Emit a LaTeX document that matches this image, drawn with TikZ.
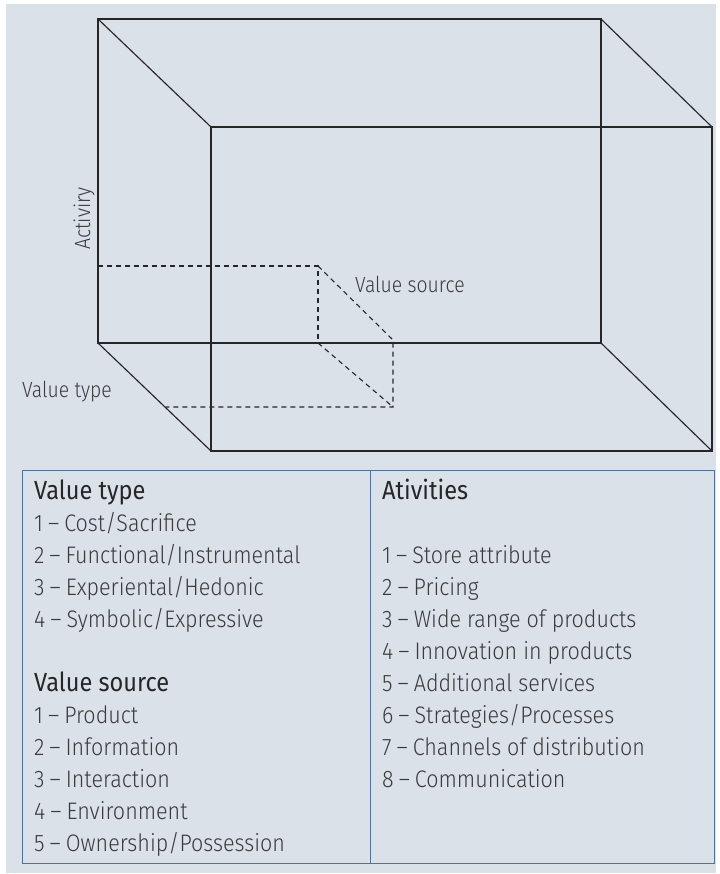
\documentclass[tikz,border=0pt]{standalone}
\usepackage{fontspec}
\newfontfamily\lightfont{Fira Sans Light}[FakeStretch=0.9]
\newfontfamily\labelfont{Fira Sans Light}[FakeStretch=0.88]
\newfontfamily\headfont{Fira Sans}[FakeStretch=0.9]
% numbered entry: number, en dash with narrow gaps, text
\newcommand\dsh{\kern5pt–\kern5pt}
\definecolor{panel}{HTML}{DBE1E9}
\definecolor{edge}{HTML}{262626}
\definecolor{frame}{HTML}{4E7399}
\definecolor{itemtext}{HTML}{3A3A3A}
\definecolor{headtext}{HTML}{262626}
\begin{document}
\begin{tikzpicture}[x=1pt,y=-1pt,
  solidedge/.style={draw=edge,line width=1.15pt},
  hidden/.style={draw=edge,line width=1.1pt,dash pattern=on 5pt off 4pt},
  axislabel/.style={inner sep=0pt,anchor=base west,text=itemtext,font=\labelfont\fontsize{22}{26}\selectfont},
  item/.style={inner sep=0pt,anchor=base west,text=itemtext,font=\lightfont\fontsize{23.9}{32}\selectfont},
  heading/.style={inner sep=0pt,anchor=base west,text=headtext,font=\headfont\fontsize{26.2}{32}\selectfont}]
\useasboundingbox (0,0) rectangle (719,874);
\fill[panel] (6,4) rectangle (716,873);

% back face of the box
\coordinate (b1) at (98,19);  \coordinate (b2) at (601,19);
\coordinate (b3) at (601,343); \coordinate (b4) at (98,343);
% front face of the box
\coordinate (f1) at (211,127); \coordinate (f2) at (712,127);
\coordinate (f3) at (712,451); \coordinate (f4) at (211,451);

\draw[solidedge] (b1) -- (b2) -- (b3) -- (b4) -- cycle;
\draw[solidedge] (f1) -- (f2) -- (f3) -- (f4) -- cycle;
\draw[solidedge] (b1) -- (f1) (b2) -- (f2) (b3) -- (f3) (b4) -- (f4);

% dashed sub-cell marking one value source
\coordinate (s1) at (98,266);  \coordinate (s2) at (318,266);
\coordinate (s3) at (318,343); \coordinate (s4) at (393,340);
\coordinate (s5) at (393,407); \coordinate (s6) at (166,407);
\draw[hidden] (s1) -- (s2) -- (s3);
\draw[hidden] (s2) -- (s4) -- (s5) -- (s6);
\draw[hidden] (s3) -- (s5);

% axis labels
\node[axislabel,rotate=90] (lact) at (90,250) {Activiry};
\node[axislabel] (lsrc) at (355,292) {Value source};
\node[axislabel] (ltyp) at (22,397) {Value type};

% legend table
\draw[frame,line width=1pt] (22,470) rectangle (714,863);
\draw[frame,line width=1pt] (370,470) -- (370,863);

\node[heading] (h1) at (34,499) {Value type};
\foreach \t [count=\i] in {1\dsh Cost/Sacrifice,2\dsh Functional/Instrumental,3\dsh Experiental/Hedonic,4\dsh Symbolic/Expressive}
  \node[item] (vt\i) at (34,{499+32*\i}) {\t};
\node[heading] (h2) at (34,691) {Value source};
\foreach \t [count=\i] in {1\dsh Product,2\dsh Information,3\dsh Interaction,4\dsh Environment,5\dsh Ownership/Possession}
  \node[item] (vs\i) at (34,{691+32*\i}) {\t};

\node[heading] (h3) at (382,499) {Ativities};
\foreach \t [count=\i] in {1\dsh Store attribute,2\dsh Pricing,3\dsh Wide range of products,4\dsh Innovation in products,5\dsh Additional services,6\dsh Strategies/Processes,7\dsh Channels of distribution,8\dsh Communication}
  \node[item] (ac\i) at (382,{531+32*\i}) {\t};
\end{tikzpicture}
\end{document}
